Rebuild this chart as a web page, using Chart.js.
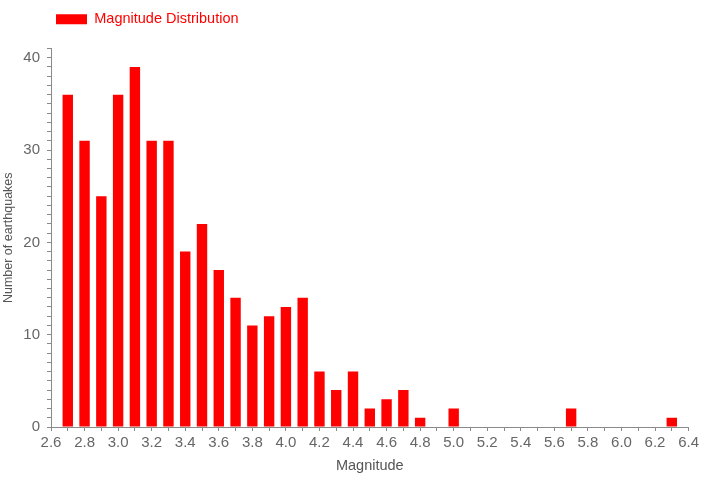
<!DOCTYPE html>
<html>
<head>
<meta charset="utf-8">
<script src="https://cdn.jsdelivr.net/npm/chart.js@4"></script>
<style>
  html, body { margin: 0; padding: 0; background: #fff; }
  #wrap { width: 702px; height: 484px; position: relative; }
</style>
</head>
<body>
<div id="wrap"><canvas id="c"></canvas></div>
<script>
// Data
const magnitudes = [2.7, 2.8, 2.9, 3.0, 3.1, 3.2, 3.3, 3.4, 3.5, 3.6, 3.7, 3.8, 3.9, 4.0, 4.1, 4.2, 4.3, 4.4, 4.5, 4.6, 4.7, 4.8, 5.0, 5.7, 6.3];
const counts     = [36,  31,  25,  36,  39,  31,  31,  19,  22,  17,  14,  11,  12,  13,  14,  6,   4,   6,   2,   3,   4,   1,   2,   2,   1];
const seriesLabel = 'Magnitude Distribution';
const xTitle = 'Magnitude';
const yTitle = 'Number of earthquakes';
const xMin = 2.6, xMax = 6.4, xStep = 0.1;
const yMin = 0, yMax = 41, yStep = 1;

const points = magnitudes.map((m, i) => ({ x: m, y: counts[i] }));
const FONT = '"Liberation Sans", Arial, sans-serif';
const AXIS = '#8a8a8a';

new Chart(document.getElementById('c'), {
  type: 'bar',
  data: {
    datasets: [{
      label: seriesLabel,
      data: points,
      backgroundColor: '#ff0000',
      borderWidth: 0,
      barPercentage: 0.62,
      categoryPercentage: 1
    }]
  },
  options: {
    responsive: true,
    maintainAspectRatio: false,
    animation: false,
    layout: { padding: { top: 7, right: 10, left: 0, bottom: 0 } },
    plugins: {
      legend: {
        display: true,
        position: 'top',
        align: 'start',
        fullSize: false,
        weight: 3000,
        labels: {
          boxWidth: 31,
          boxHeight: 10,
          padding: 5,
          color: '#ff0000',
          font: { family: FONT, size: 14.5 }
        }
      },
      title: {
        display: true,
        text: '',
        font: { family: FONT, size: 10 },
        padding: { top: 0, bottom: 0 }
      },
      tooltip: { enabled: false }
    },
    scales: {
      x: {
        type: 'linear',
        min: xMin,
        max: xMax,
        offset: false,
        grid: { display: true, offset: false, drawOnChartArea: false, drawTicks: true, tickLength: 4, color: AXIS },
        border: { display: true, color: AXIS, width: 1 },
        ticks: {
          stepSize: xStep,
          autoSkip: false,
          maxRotation: 0,
          minRotation: 0,
          padding: 3,
          color: '#666',
          font: { family: FONT, size: 15 },
          callback: (v) => { const k = Math.round(v * 10); return k % 2 === 0 ? (k / 10).toFixed(1) : ''; }
        },
        title: {
          display: true,
          text: xTitle,
          color: '#555',
          font: { family: FONT, size: 14.5 },
          padding: { top: 0, bottom: 9 }
        },
        afterFit: (s) => { s.height = 57; }
      },
      y: {
        type: 'linear',
        min: yMin,
        max: yMax,
        grid: { display: true, drawOnChartArea: false, drawTicks: true, tickLength: 4, color: AXIS },
        border: { display: true, color: AXIS, width: 1 },
        ticks: {
          stepSize: yStep,
          autoSkip: false,
          padding: 7,
          color: '#666',
          font: { family: FONT, size: 15 },
          callback: (v) => (Math.round(v) % 10 === 0 ? String(Math.round(v)) : '')
        },
        title: {
          display: true,
          text: yTitle,
          color: '#555',
          font: { family: FONT, size: 12.5 },
          padding: { top: 1, bottom: 0 }
        },
        afterFit: (s) => { s.width = 51; }
      }
    }
  }
});
</script>
</body>
</html>
